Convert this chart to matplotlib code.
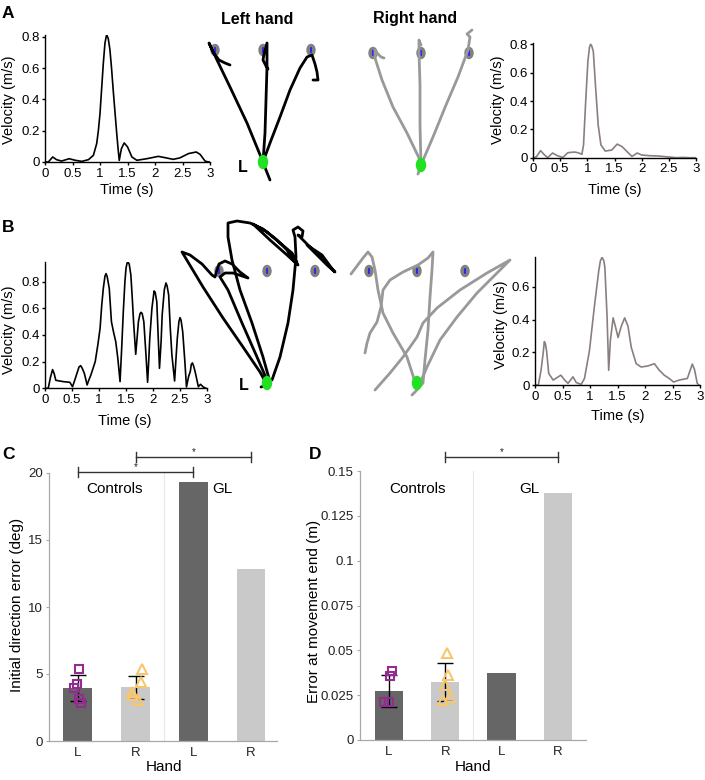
import matplotlib
matplotlib.use("Agg")
import matplotlib.pyplot as plt
from matplotlib.patches import Ellipse

plt.rcParams['font.family'] = ['Liberation Sans', 'DejaVu Sans']

W, H = 705, 780

# ---------------- data ----------------
# velocity profiles (time in s, velocity in m/s)
a_left_t = [0, .06, .14, .21, .30, .44, .55, .67, .79, .88, .94, .97, 1.0, 1.03, 1.06, 1.09, 1.12, 1.15,
            1.18, 1.21, 1.24, 1.27, 1.30, 1.33, 1.35, 1.37, 1.39, 1.44, 1.50, 1.58, 1.67, 1.85, 2.06,
            2.18, 2.33, 2.45, 2.61, 2.75, 2.82, 2.91, 2.97, 3.0]
a_left_v = [0, 0, .032, .015, .006, .021, .011, .004, .015, .043, .118, .2, .31, .47, .63, .76, .815, .79,
            .72, .6, .46, .33, .2, .08, .01, .05, .086, .122, .097, .032, .011, .021, .036,
            .028, .017, .026, .054, .064, .049, .006, 0, 0]

a_right_t = [0, .06, .14, .20, .27, .36, .45, .55, .64, .76, .83, .90, .93, .97, 1.01, 1.04, 1.06, 1.08,
             1.11, 1.15, 1.20, 1.25, 1.33, 1.45, 1.55, 1.64, 1.72, 1.82, 1.92, 2.0, 2.15, 2.3, 2.45,
             2.64, 2.76, 2.88, 3.0]
a_right_v = [0, .005, .05, .024, 0, .033, .014, .002, .035, .04, .035, .024, .09, .4, .68, .78, .8, .79,
             .75, .51, .23, .09, .047, .054, .096, .078, .047, .009, .033, .019, .014, .012, .007,
             0, .002, 0, 0]

b_left_t = [0, .06, .10, .14, .17, .20, .34, .46, .51, .55, .59, .63, .66, .69, .73, .78, .81, .85, .93,
            .98, 1.02, 1.05, 1.08, 1.11, 1.13, 1.15, 1.19, 1.23, 1.27, 1.31, 1.35, 1.39, 1.42, 1.45,
            1.48, 1.50, 1.52, 1.54, 1.56, 1.59, 1.62, 1.64, 1.68, 1.71, 1.73, 1.76, 1.78, 1.80, 1.83,
            1.87, 1.90, 1.92, 1.94, 1.98, 2.02, 2.04, 2.07, 2.10, 2.12, 2.15, 2.17, 2.21, 2.24, 2.26,
            2.29, 2.32, 2.35, 2.40, 2.43, 2.45, 2.48, 2.50, 2.52, 2.55, 2.59, 2.62, 2.66, 2.69, 2.71,
            2.73, 2.75, 2.78, 2.84, 2.88, 2.93, 2.98]
b_left_v = [0, 0, .08, .14, .11, .06, .05, .045, .012, .06, .11, .16, .17, .15, .11, .025, .06, .1, .2,
            .33, .45, .62, .75, .84, .86, .84, .75, .5, .42, .35, .22, .05, .3, .575,
            .8, .9, .94, .945, .93, .85, .65, .5, .255, .4, .5, .56, .57, .56, .5,
            .25, .045, .2, .375, .6, .73, .72, .65, .35, .15, .35, .55, .74, .79, .77,
            .7, .45, .25, .055, .25, .375, .5, .53, .51, .425, .2, .01, .09, .125, .18,
            .19, .17, .125, .012, .03, .01, 0]

b_right_t = [0, .06, .11, .15, .17, .19, .21, .25, .33, .47, .54, .60, .69, .75, .84, .90, .99, 1.08,
             1.16, 1.19, 1.22, 1.25, 1.27, 1.31, 1.34, 1.37, 1.42, 1.46, 1.51, 1.57, 1.63, 1.69, 1.75,
             1.84, 1.93, 2.05, 2.17, 2.26, 2.35, 2.44, 2.52, 2.62, 2.77, 2.86, 2.90, 2.95, 2.98]
b_right_v = [0, 0, .09, .2, .265, .25, .21, .07, .03, .06, .03, .01, .05, .015, .004, .04, .21, .48,
             .7, .76, .78, .76, .72, .42, .09, .27, .41, .36, .29, .36, .41, .36, .23,
             .13, .11, .116, .13, .09, .06, .04, .018, .03, .04, .128, .095, .01, 0]

# hand paths, relative to start position (x right, y up)
target_x = [-48, 0, 48]
target_y = 112

a_left_paths = [
    [(7, -18), (3, -8), (0, 0), (-16, 39), (-33, 75), (-46, 102), (-54, 119), (-50, 110), (-44, 102),
     (-38, 99), (-33, 97)],
    [(0, 0), (2, 29), (3, 62), (4, 95), (4, 119), (1, 108), (0, 102), (3, 96), (5, 93)],
    [(0, 0), (7, 19), (17, 45), (27, 72), (37, 94), (44, 105), (49, 107), (52, 98), (54, 90), (55, 82),
     (50, 82)],
]
a_right_paths = [
    [(0, 0), (-1, 5), (-14, 32), (-28, 58), (-39, 85), (-46, 107), (-46, 115), (-43, 111), (-40, 108),
     (-37, 107)],
    [(-3, -9), (-1, -3), (0, 0), (-1, 40), (-1, 80), (-2, 113), (-2, 125), (0, 120)],
    [(0, 0), (12, 28), (25, 60), (37, 88), (47, 115), (49, 128), (46, 131), (51, 135)],
]
b_left_paths = [
    [(-6, -4), (0, -2), (-7, 11), (-24, 36), (-44, 65), (-64, 96), (-85, 131), (-77, 128), (-65, 119),
     (-55, 108), (-52, 106), (-50, 113), (-48, 119), (-42, 122), (-35, 119), (-27, 111), (-19, 105),
     (-25, 107), (-34, 110), (-42, 110), (-47, 106), (-39, 93), (-25, 60), (-10, 26), (0, 3)],
    [(3, 1), (-4, 26), (-15, 60), (-27, 93), (-35, 123), (-39, 146), (-39, 160), (-30, 162), (-17, 160),
     (-4, 154), (10, 143), (20, 133), (26, 123), (31, 118), (20, 128), (3, 143), (-14, 159), (0, 151),
     (13, 140), (25, 130), (30, 121)],
    [(5, 3), (13, 26), (21, 60), (26, 93), (29, 126), (28, 146), (26, 153), (31, 156), (36, 152),
     (35, 146), (31, 148), (36, 143), (46, 133), (58, 121), (68, 111), (60, 118), (50, 128), (40, 138),
     (55, 128), (66, 113)],
]
b_right_paths = [
    [(-1, -2), (-10, 26), (-24, 50), (-34, 70), (-39, 93), (-42, 113), (-45, 126), (-49, 131),
     (-54, 125), (-60, 117), (-66, 109)],
    [(-52, 30), (-50, 40), (-47, 50), (-40, 61), (-36, 76), (-34, 93), (-27, 103), (-14, 111), (1, 118),
     (11, 125), (16, 131), (15, 113), (13, 86), (11, 53), (8, 23), (6, 0), (-2, -9), (-5, -12)],
    [(-42, -7), (-27, 10), (-14, 26), (0, 46), (6, 60), (20, 75), (43, 93), (70, 110), (93, 123),
     (80, 110), (60, 90), (40, 66), (23, 43), (10, 16), (3, 0)],
]

# bar charts
hands = ['L', 'R', 'L', 'R']
dir_err = [3.95, 4.0, 19.3, 12.85]
dir_sd = [0.97, 0.87]
dir_ctrl_l = [5.35, 4.25, 3.93, 3.11, 2.86]
dir_ctrl_r = [5.35, 4.43, 3.69, 3.44, 3.07]
end_err = [0.0273, 0.0323, 0.0374, 0.1377]
end_sd = [0.0089, 0.0106]
end_ctrl_l = [0.0385, 0.0358, 0.021, 0.021]
end_ctrl_r = [0.0483, 0.0362, 0.0307, 0.0223, 0.0238]

# jitter of the individual control points
jit_c_l = [0.02, -0.01, -0.06, 0.02, 0.06]
jit_c_r = [0.11, 0.10, -0.06, -0.04, 0.05]
jit_d_l = [0.05, 0.02, -0.09, 0.0]
jit_d_r = [0.03, 0.05, 0.0, -0.04, 0.08]


# ---------------- helpers ----------------
def rect(l, t, r, b):
    return [l / W, 1 - b / H, (r - l) / W, (b - t) / H]


def ftext(x, y, s, **kw):
    fig.text(x / W, 1 - y / H, s, **kw)


def vel_axes(box, t, v, color, ytop, yticks):
    ax = fig.add_axes(rect(*box))
    ax.plot(t, v, color=color, lw=1.2, solid_joinstyle='round')
    ax.set_xlim(0, 3)
    ax.set_ylim(0, ytop)
    ax.set_xticks([0, 0.5, 1, 1.5, 2, 2.5, 3])
    ax.set_xticklabels(['0', '0.5', '1', '1.5', '2', '2.5', '3'])
    ax.set_yticks(yticks)
    ax.set_yticklabels(['0' if y == 0 else f'{y:g}' for y in yticks])
    for s in ['top', 'right']:
        ax.spines[s].set_visible(False)
    for s in ['left', 'bottom']:
        ax.spines[s].set_linewidth(1)
    ax.tick_params(direction='out', length=2.5, width=1, pad=1.5, labelsize=9.5)
    ax.patch.set_alpha(0)
    return ax


def traj_axes(box, start, paths, color):
    l, t, r, b = box
    sx, sy = start
    ax = fig.add_axes(rect(*box))
    ax.set_xlim(l - sx, r - sx)
    ax.set_ylim(sy - b, sy - t)
    ax.axis('off')
    for tx in target_x:
        ax.add_patch(Ellipse((tx, target_y), 8, 11, color='#808080', zorder=1))
        ax.plot([tx, tx], [target_y - 2, target_y + 2], color='#1a1aff', lw=1.2, zorder=2)
    for p in paths:
        ax.plot([q[0] for q in p], [q[1] for q in p], color=color, lw=2,
                solid_joinstyle='round', solid_capstyle='round', zorder=3, clip_on=False)
    ax.add_patch(Ellipse((0, 0), 9, 13, color='#22e022', zorder=4))
    return ax


def bar_axes(box, xlim, ylim, yticks, ylabels, vals, sd, pts_l, pts_r, jl, jr):
    ax = fig.add_axes(rect(*box))
    x = range(len(vals))
    ax.bar(x, vals, width=0.5, color=['#666666', '#c9c9c9', '#666666', '#c9c9c9'], zorder=2)
    ax.axvline(1.5, color='#e8e8e8', lw=0.8, zorder=1)
    ax.errorbar([0, 1], vals[:2], yerr=sd, fmt='none', ecolor='black', elinewidth=1,
                capsize=6, capthick=1, zorder=3)
    ax.plot([0 + j for j in jl], pts_l, 's', mfc='none', mec='#922c91', ms=6, mew=1.5, zorder=4)
    ax.plot([1 + j for j in jr], pts_r, '^', mfc='none', mec='#f8c66c', ms=6.5, mew=1.5, zorder=4)
    ax.set_xlim(*xlim)
    ax.set_ylim(*ylim)
    ax.set_xticks(list(x))
    ax.set_xticklabels(hands)
    ax.set_yticks(yticks)
    ax.set_yticklabels(ylabels)
    for s in ['top', 'right']:
        ax.spines[s].set_visible(False)
    for s in ['left', 'bottom']:
        ax.spines[s].set_color('#a8a8a8')
        ax.spines[s].set_linewidth(0.9)
    ax.tick_params(axis='y', direction='out', length=2.5, width=0.8, color='#a8a8a8',
                   labelsize=9.5, labelcolor='#222222', pad=2)
    ax.tick_params(axis='x', length=0, labelsize=9.5, labelcolor='#222222', pad=4)
    return ax


def bracket(ax, x0, x1, y, cap):
    ax.plot([x0, x1], [y, y], color='#333333', lw=1, clip_on=False)
    for xx in (x0, x1):
        ax.plot([xx, xx], [y - cap, y + cap], color='#333333', lw=1, clip_on=False)
    ax.text((x0 + x1) / 2, y, '*', ha='center', va='bottom', fontsize=7, color='#222222')


# ---------------- figure ----------------
fig = plt.figure(figsize=(W / 100, H / 100), dpi=100)

# row A
vel_axes((45, 35.4, 210, 162), a_left_t, a_left_v, 'black', 0.81, [0, 0.2, 0.4, 0.6, 0.8])
vel_axes((533, 42.9, 696, 157.7), a_right_t, a_right_v, '#8a7f7f', 0.81, [0, 0.2, 0.4, 0.6, 0.8])
traj_axes((195, 25, 335, 190), (263, 162), a_left_paths, 'black')
traj_axes((355, 20, 495, 190), (421, 165), a_right_paths, '#999999')

# row B
vel_axes((45, 262.3, 207, 388.3), b_left_t, b_left_v, 'black', 0.945, [0, 0.2, 0.4, 0.6, 0.8])
vel_axes((535, 257.3, 700, 385), b_right_t, b_right_v, '#8a7f7f', 0.78, [0, 0.2, 0.4, 0.6])
traj_axes((170, 215, 345, 400), (267, 383), b_left_paths, 'black')
traj_axes((340, 240, 520, 400), (417, 383), b_right_paths, '#999999')

lab = dict(fontsize=10.5, ha='center', va='center')
for x, y in [(9, 100), (498, 100), (9, 330), (501, 325)]:
    ftext(x, y, 'Velocity (m/s)', rotation=90, **lab)
for x, y in [(127, 190), (615, 190), (125, 421), (618, 416)]:
    ftext(x, y, 'Time (s)', **lab)

ftext(257, 19, 'Left hand', fontsize=11.5, fontweight='bold', ha='center', va='center')
ftext(415, 19, 'Right hand', fontsize=11.5, fontweight='bold', ha='center', va='center')
ftext(243, 167, 'L', fontsize=11.5, fontweight='bold', ha='center', va='center')
ftext(244, 386, 'L', fontsize=11.5, fontweight='bold', ha='center', va='center')

# row C / D
axc = bar_axes((49, 473, 277, 741), (-0.5, 3.45), (0, 20), [0, 5, 10, 15, 20],
               ['0', '5', '10', '15', '20'], dir_err, dir_sd, dir_ctrl_l, dir_ctrl_r, jit_c_l, jit_c_r)
axc.text(0.64, 18.8, 'Controls', fontsize=11, ha='center', va='center')
axc.text(2.5, 18.8, 'GL', fontsize=11, ha='center', va='center')
bracket(axc, 0, 2, 20.1, 0.37)
bracket(axc, 1, 3, 21.2, 0.37)

axd = bar_axes((360, 471, 586, 740), (-0.515, 3.5), (0, 0.15),
               [0, 0.025, 0.05, 0.075, 0.1, 0.125, 0.15],
               ['0', '0.025', '0.05', '0.075', '0.1', '0.125', '0.15'],
               end_err, end_sd, end_ctrl_l, end_ctrl_r, jit_d_l, jit_d_r)
axd.text(0.5, 0.14, 'Controls', fontsize=11, ha='center', va='center')
axd.text(2.5, 0.14, 'GL', fontsize=11, ha='center', va='center')
bracket(axd, 1, 3, 0.158, 0.0028)

ftext(17, 605, 'Initial direction error (deg)', rotation=90, fontsize=11, ha='center', va='center')
ftext(314, 611, 'Error at movement end (m)', rotation=90, fontsize=11, ha='center', va='center')
ftext(164, 767, 'Hand', fontsize=11, ha='center', va='center')
ftext(473, 767, 'Hand', fontsize=11, ha='center', va='center')

pl = dict(fontsize=12.5, fontweight='bold', ha='left', va='center')
ftext(2, 13, 'A', **pl)
ftext(2, 228, 'B', **pl)
ftext(2, 454, 'C', **pl)
ftext(309, 454, 'D', **pl)

fig.savefig('out.png', dpi=100)
